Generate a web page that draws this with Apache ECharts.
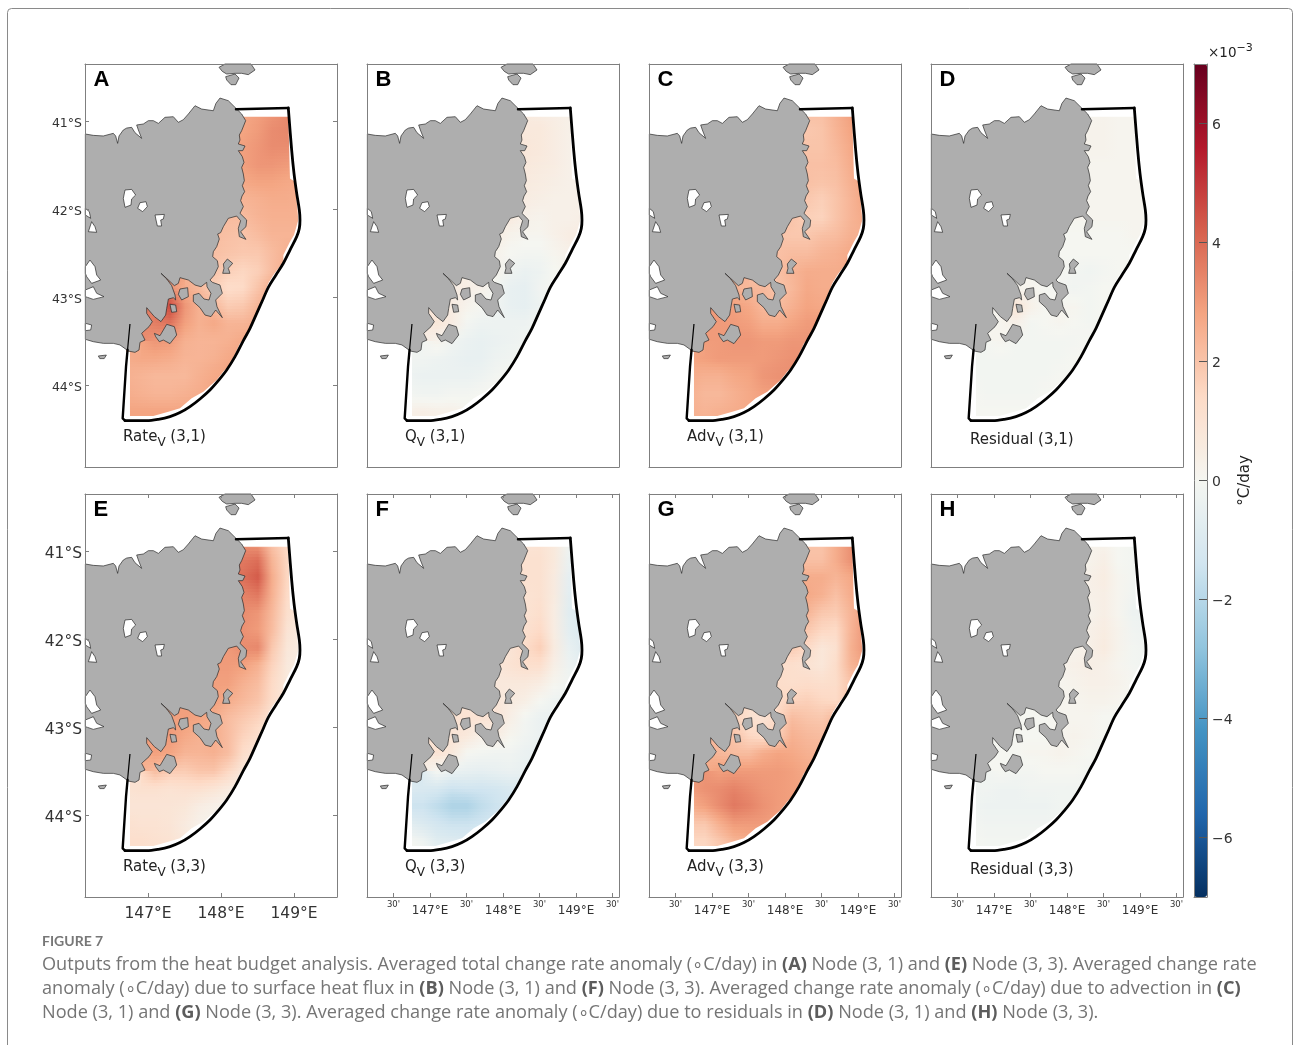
<!DOCTYPE html>
<html><head><meta charset="utf-8">
<script src="https://cdn.jsdelivr.net/npm/echarts@6/dist/echarts.min.js"></script>
<style>html,body{margin:0;padding:0;background:#fff;overflow:hidden}#c{width:1293px;height:1045px}</style>
</head><body><div id="c"></div>
<script>
// ---- axes
const lonRange=[146.137,149.589], latRange=[-44.932,-40.352];
const latTicks=[-41,-42,-43,-44];
const lonDegTicks=[147,148,149];
const lonHalfTicks=[146.5,147,147.5,148,148.5,149,149.5];
const barTicks=[-6,-4,-2,0,2,4,6];
const barRange=[-7,7];
const barColors=['#053061','#2166ac','#4393c3','#92c5de','#d1e5f0','#f5f6f1','#fddbc7','#f4a582','#d6604d','#b2182b','#67001f'];
// ---- reading grid of the fields (values x 1e-3 degC/day)
const lonNodes=[146.7,146.9,147.1,147.3,147.5,147.7,147.9,148.1,148.3,148.5,148.7,148.9,149.1];
const latNodes=[-40.9,-41.1,-41.3,-41.5,-41.7,-41.9,-42.1,-42.3,-42.5,-42.7,-42.9,-43.1,-43.3,-43.5,-43.7,-43.9,-44.1,-44.3,-44.5];
const rowFirstLon=[8,8,8,8,8,8,7,6,6,5,3,3,2,2,0,0,0,0,0];
const rateV31=[[2.7,2.9,3.1,3.3,3.3],[2.8,3.0,3.3,3.4,3.4],[2.9,3.1,3.3,3.3,3.2],[2.9,3.1,3.1,3.0,2.9],[2.7,2.8,2.8,2.7,2.6],[2.4,2.5,2.6,2.6,2.5],
[2.2,2.2,2.4,2.5,2.5,2.5],[2.2,2.1,2.0,2.2,2.4,2.4,2.4],[2.1,2.0,1.9,1.9,2.2,2.5,2.5],[2.3,2.0,1.7,1.5,1.7,2.2,2.6,2.6],
[3.2,2.6,2.3,1.7,1.3,1.4,2.0,2.6,2.7],[4.6,3.1,2.5,2.3,1.8,1.9,2.4,2.7],[3.6,3.8,2.9,2.5,2.7,2.4,2.4,2.6,2.7],[3.1,3.0,2.5,2.4,2.4,2.5,2.7,2.7],
[2.6,2.7,2.7,2.6,2.4,2.4,2.5,2.7,2.8,2.8],[2.5,2.4,2.3,2.3,2.3,2.5,2.7,2.8,2.8],[2.6,2.5,2.4,2.4,2.5,2.6,2.8,2.8],[2.8,2.8,2.8,2.8,2.8,2.9,2.9],[2.8,2.8,2.8,2.8,2.8]];
const qV31=[[0.6,0.5,0.4,0.3,0.3],[0.7,0.7,0.5,0.3,0.3],[0.8,0.7,0.5,0.3,0.3],[0.7,0.6,0.5,0.3,0.3],[0.6,0.5,0.4,0.3,0.3],[0.5,0.4,0.3,0.3,0.3],
[0.6,0.3,0.2,0.3,0.3,0.4],[0.5,0.2,0.1,0.1,0.3,0.5,0.5],[0.2,0.0,-0.1,-0.1,0.1,0.3,0.4],[0.3,0.2,-0.2,-0.4,-0.3,0.0,0.1,0.1],
[0.5,0.4,0.3,-0.1,-0.5,-0.6,-0.2,0.0,0.1],[0.5,0.2,0.0,-0.2,-0.5,-0.6,-0.3,0.0],[0.8,0.5,-0.1,-0.3,-0.3,-0.3,-0.3,-0.1,0.0],[0.2,-0.2,-0.4,-0.5,-0.4,-0.3,-0.2,-0.1],
[-0.2,-0.2,-0.3,-0.4,-0.5,-0.5,-0.3,-0.2,0.0,0.1],[-0.3,-0.4,-0.4,-0.4,-0.4,-0.3,-0.1,0.0,0.1],[-0.1,-0.2,-0.2,-0.1,-0.1,0.0,0.1,0.1],[0.3,0.4,0.3,0.3,0.2,0.2,0.2],[0.4,0.4,0.4,0.3,0.3]];
const advV31=[[2.1,2.1,2.5,2.9,2.9],[1.9,2.0,2.4,2.8,2.9],[2.0,2.0,2.3,2.7,2.9],[2.1,2.1,2.2,2.6,2.9],[2.1,2.0,2.1,2.5,2.8],[1.9,1.7,2.0,2.4,2.8],
[2.0,1.7,1.6,2.0,2.4,2.7],[2.0,1.9,1.9,2.1,2.2,2.5,2.5],[2.1,2.2,2.2,2.4,2.5,2.7,2.7],[1.8,2.1,2.4,2.6,2.6,2.6,2.7,2.7],
[2.4,2.3,2.3,2.0,2.3,2.7,2.6,2.6,2.8],[2.9,2.7,2.3,2.2,2.5,2.8,2.7,2.8],[3.0,3.0,2.9,2.6,2.6,2.8,3.0,3.0,2.9],[3.0,3.1,3.1,3.0,3.0,3.1,3.1,3.0],
[2.8,2.9,3.0,3.0,3.0,3.0,3.1,3.2,3.2,3.1],[2.6,2.5,2.5,2.7,2.8,3.1,3.2,3.2,3.2],[2.5,2.3,2.3,2.5,2.7,2.9,3.0,3.0],[2.5,2.4,2.5,2.6,2.7,2.8,2.8],[2.5,2.5,2.5,2.6,2.7]];
const residual31=[[0.1,0.2,0.1,0.1,0.1],[0.2,0.2,0.1,0.1,0.1],[0.2,0.2,0.1,0.1,0.1],[0.1,0.1,0.1,0.1,0.1],[0.1,0.1,0.1,0.1,0.1],[0.1,0.1,0.1,0.1,0.1],
[0.1,0.1,0.1,0.1,0.1,0.1],[0,0,0,0,0,0.1,0.1],[0,0,0,0,0,0,0.1],[0,0,-0.1,-0.2,-0.1,0,0,0],
[0.1,0.1,0,-0.1,-0.2,-0.1,0,0,0],[0.9,0.3,0,0.1,0.1,-0.1,0,0],[0.1,0.3,-0.1,0,0.1,0,-0.1,0,0],[0.1,-0.1,-0.1,-0.1,-0.1,-0.1,0,0],
[-0.1,-0.1,-0.1,-0.1,-0.1,-0.1,-0.1,0,0,0],[-0.1,-0.1,-0.1,-0.1,-0.1,-0.1,0,0,0],[0,-0.1,-0.1,-0.1,-0.1,0,0,0],[0,0,0,0,0,0,0],[0,0,0,0,0]];
const rateV33=[[3.2,3.0,2.0,1.4,1.2],[3.7,3.9,2.4,1.5,1.2],[3.9,4.3,2.6,1.5,1.2],[3.5,3.7,2.5,1.4,1.0],[3.3,3.1,2.3,1.2,0.7],[3.2,3.0,2.2,1.0,0.6],
[3.0,3.3,3.4,1.9,0.8,0.5],[3.0,3.0,2.9,2.5,1.6,0.7,0.4],[2.9,2.9,2.5,2.2,1.4,0.7,0.4],[3.0,2.9,2.6,2.3,2.0,1.3,0.7,0.5],
[2.9,2.9,2.8,2.6,2.2,1.9,1.6,0.9,0.6],[3.0,2.7,2.5,2.6,2.2,1.6,1.2,0.6],[2.9,2.8,2.4,2.4,2.5,2.2,1.3,0.8,0.4],[2.2,1.8,1.8,2.0,2.0,1.5,0.8,0.4],
[1.0,1.1,1.1,1.0,1.1,1.1,0.9,0.6,0.3,0.2],[0.9,0.9,0.9,0.9,0.8,0.5,0.3,0.2,0.2],[1.1,1.0,1.0,0.9,0.6,0.3,0.2,0.2],[1.2,1.2,1.1,1.0,0.7,0.4,0.3],[1.2,1.2,1.1,1.0,0.8]];
const qV33=[[0.9,1.0,0.7,-0.2,-0.5],[1.1,1.1,0.7,-0.4,-0.7],[1.1,1.1,0.6,-0.6,-0.8],[1.0,1.1,0.6,-0.7,-0.9],[1.0,1.2,0.5,-0.8,-1.0],[1.1,1.4,0.5,-0.7,-1.0],
[0.9,1.3,1.7,0.6,-0.5,-0.9],[0.8,1.0,1.2,1.2,0.4,-0.3,-0.7],[0.7,0.7,0.7,0.5,0.1,-0.2,-0.3],[0.7,0.8,0.6,0.4,0.0,-0.3,-0.4,-0.4],
[1.0,1.0,1.0,0.9,0.4,-0.1,-0.4,-0.4,-0.4],[0.9,0.7,0.3,0.5,0.1,-0.2,-0.4,-0.4],[1.0,0.7,0.0,-0.1,-0.2,-0.2,-0.4,-0.5,-0.5],[0.0,-0.4,-0.5,-0.6,-0.5,-0.4,-0.5,-0.6],
[-1.0,-1.1,-1.2,-1.5,-1.4,-1.4,-1.3,-1.1,-0.9,-0.8],[-1.5,-1.5,-1.8,-2.2,-2.2,-1.8,-1.5,-1.2,-1.0],[-0.7,-1.0,-1.3,-1.5,-1.5,-1.4,-1.2,-1.0],[0.0,-0.3,-0.8,-0.9,-1.0,-0.9,-0.9],[0.1,-0.1,-0.5,-0.8,-0.9]];
const advV33=[[2.0,2.0,2.6,3.2,3.2],[2.1,2.1,2.6,3.2,3.2],[2.6,2.6,2.4,2.7,2.8],[2.7,2.5,2.1,2.6,2.8],[2.4,1.9,1.8,2.4,2.9],[1.9,1.5,1.4,2.4,3.1],
[1.8,1.4,0.8,1.1,2.5,3.1],[1.2,1.2,1.0,0.8,1.3,2.4,2.8],[1.3,1.2,1.3,1.2,1.3,2.0,2.4],[1.2,1.3,1.6,1.7,1.5,1.4,2.0,2.2],
[1.6,1.1,1.0,1.4,2.2,2.0,1.9,2.3,2.4],[2.0,1.5,1.3,1.7,2.5,2.3,2.2,2.3],[2.3,2.2,2.2,2.6,2.8,2.7,2.5,2.4,2.4],[2.9,3.0,3.0,3.0,3.0,2.9,2.7,2.6],
[3.0,3.2,3.3,3.5,3.3,3.1,3.0,2.9,2.8,2.6],[2.6,2.9,3.3,3.7,3.5,3.2,3.0,2.9,2.8],[1.9,1.9,2.5,3.0,3.0,3.0,2.9,2.8],[1.5,1.5,1.9,2.4,2.6,2.7,2.7],[1.4,1.5,1.9,2.4,2.6]];
const residual33=[[0.2,0.2,0,-0.1,-0.1],[0.2,0.4,0,-0.1,-0.1],[0.3,0.5,0.1,-0.1,-0.2],[0.3,0.4,0.1,-0.2,-0.2],[0.2,0.4,0.1,-0.3,-0.3],[0.3,0.5,0.2,-0.2,-0.3],
[0.2,0.3,0.6,0.2,-0.1,-0.2],[0.2,0.3,0.4,0.3,0.1,-0.1,-0.2],[0.1,0.2,0.3,0.3,0.2,0,-0.1],[0.1,0.1,0.1,0.2,0.2,0.1,0,0],
[0,0,0,0.1,0.1,0.1,0,0,-0.1],[0,0,0,0.1,0.2,0.1,0,-0.1],[0,0,0.1,0.1,0.2,0.1,0,-0.1,-0.1],[0,-0.1,-0.1,0,0,0,-0.1,-0.1],
[-0.2,-0.2,-0.3,-0.3,-0.2,-0.2,-0.2,-0.2,-0.2,-0.2],[-0.2,-0.3,-0.3,-0.3,-0.3,-0.3,-0.2,-0.2,-0.2],[-0.1,-0.2,-0.2,-0.2,-0.2,-0.2,-0.2,-0.2],[0,-0.1,-0.1,-0.1,-0.1,-0.1,-0.1],[0,-0.1,-0.1,-0.1,-0.1]];
// ---- geography, lon/lat
const mainland=[[146.142,-41.148],[146.251,-41.163],[146.388,-41.170],[146.525,-41.140],[146.557,-41.170],[146.584,-41.254],[146.603,-41.170],[146.662,-41.102],[146.708,-41.080],[146.776,-41.072],[146.822,-41.133],[146.913,-41.197],[146.868,-41.102],[146.845,-41.045],[146.936,-41.034],[147.005,-40.996],[147.073,-40.996],[147.142,-41.027],[147.233,-40.958],[147.347,-40.951],[147.416,-41.015],[147.484,-40.985],[147.553,-40.920],[147.644,-40.826],[147.735,-40.864],[147.895,-40.883],[147.930,-40.800],[147.986,-40.739],[148.100,-40.769],[148.192,-40.845],[148.283,-40.920],[148.338,-40.996],[148.283,-41.110],[148.251,-41.159],[148.260,-41.216],[148.237,-41.261],[148.329,-41.284],[148.297,-41.337],[148.237,-41.337],[148.292,-41.405],[148.315,-41.470],[148.283,-41.527],[148.306,-41.602],[148.320,-41.678],[148.292,-41.735],[148.324,-41.803],[148.288,-41.852],[148.269,-41.905],[148.306,-41.973],[148.260,-42.049],[148.352,-42.125],[148.342,-42.201],[148.269,-42.258],[148.342,-42.345],[148.251,-42.314],[148.237,-42.220],[148.269,-42.133],[148.215,-42.080],[148.100,-42.106],[148.032,-42.201],[147.995,-42.269],[147.954,-42.284],[147.977,-42.341],[147.941,-42.428],[147.895,-42.485],[147.886,-42.542],[147.950,-42.587],[147.963,-42.655],[147.909,-42.750],[147.849,-42.807],[147.881,-42.833],[147.986,-42.864],[148.018,-42.958],[147.927,-43.034],[147.945,-43.110],[148.018,-43.235],[147.927,-43.148],[147.863,-43.223],[147.781,-43.205],[147.712,-43.121],[147.621,-43.053],[147.621,-42.977],[147.699,-42.958],[147.767,-43.023],[147.836,-43.034],[147.863,-42.958],[147.808,-42.883],[147.804,-42.833],[147.726,-42.883],[147.644,-42.864],[147.553,-42.807],[147.438,-42.780],[147.416,-42.845],[147.361,-42.871],[147.279,-42.807],[147.178,-42.731],[147.256,-42.795],[147.324,-42.871],[147.370,-42.977],[147.379,-43.034],[147.347,-43.008],[147.279,-43.023],[147.256,-43.129],[147.242,-43.205],[147.178,-43.280],[147.087,-43.223],[146.982,-43.121],[146.982,-43.186],[147.059,-43.280],[147.014,-43.337],[146.913,-43.413],[146.959,-43.489],[146.890,-43.515],[146.877,-43.602],[146.822,-43.629],[146.731,-43.614],[146.616,-43.545],[146.525,-43.527],[146.388,-43.527],[146.251,-43.508],[146.142,-43.481]];
const bruny1=[[147.301,-43.083],[147.379,-43.091],[147.393,-43.167],[147.324,-43.174]];
const bruny2=[[147.087,-43.413],[147.164,-43.440],[147.256,-43.311],[147.361,-43.337],[147.393,-43.432],[147.301,-43.530],[147.210,-43.489],[147.155,-43.508],[147.105,-43.451]];
const bayIsle=[[147.438,-42.909],[147.543,-42.894],[147.553,-42.996],[147.461,-43.034],[147.416,-42.970]];
const maria=[[148.032,-42.625],[148.087,-42.568],[148.160,-42.617],[148.100,-42.674],[148.123,-42.731],[148.023,-42.731],[148.041,-42.674]];
const capeBarren=[[147.973,-40.390],[148.055,-40.352],[148.411,-40.352],[148.466,-40.420],[148.374,-40.473],[148.283,-40.458],[148.192,-40.458],[148.078,-40.466],[148.018,-40.436]];
const clarke=[[148.064,-40.496],[148.192,-40.466],[148.247,-40.511],[148.201,-40.587],[148.137,-40.587],[148.078,-40.534]];
const specks=[[146.32,-43.67],[146.43,-43.66],[146.40,-43.70],[146.34,-43.70]];
const lakes=[
[[146.685,-41.784],[146.776,-41.777],[146.831,-41.841],[146.776,-41.886],[146.767,-41.955],[146.685,-41.981],[146.662,-41.879]],
[[146.890,-41.928],[146.973,-41.917],[146.991,-41.973],[146.927,-42.030],[146.858,-41.992]],
[[147.096,-42.068],[147.224,-42.061],[147.210,-42.114],[147.174,-42.125],[147.187,-42.193],[147.128,-42.193],[147.110,-42.125]],
[[146.142,-41.992],[146.196,-42.030],[146.215,-42.106],[146.142,-42.068]],
[[146.228,-42.144],[146.274,-42.201],[146.297,-42.265],[146.183,-42.258]],
[[146.142,-42.655],[146.205,-42.580],[146.274,-42.655],[146.297,-42.750],[146.352,-42.807],[146.228,-42.845],[146.160,-42.769],[146.142,-42.731]],
[[146.142,-42.920],[146.251,-42.883],[146.297,-42.958],[146.397,-42.996],[146.251,-43.027],[146.142,-42.996]],
[[146.142,-43.299],[146.228,-43.318],[146.215,-43.375],[146.142,-43.383]]];
const fieldEdge=[[148.306,-40.951],[148.922,-40.951],[148.945,-41.652],[149.014,-41.689],[149.059,-42.125],[149.000,-42.295],[148.945,-42.371],[148.854,-42.523],[148.854,-42.598],[148.717,-42.750],[148.648,-42.845],[148.557,-43.034],[148.443,-43.280],[148.352,-43.451],[148.260,-43.527],[148.123,-43.773],[148.032,-43.848],[147.941,-43.943],[147.758,-44.076],[147.598,-44.152],[147.438,-44.265],[147.279,-44.303],[147.073,-44.352],[146.753,-44.352],[146.753,-43.621]];
const boundaryNorth=[[148.205,-40.867],[148.922,-40.852]];
const boundaryThick=[[148.922,-40.852],[148.968,-41.330],[149.000,-41.595],[149.037,-41.822],[149.073,-42.011],[149.082,-42.125],[149.073,-42.220],[149.037,-42.314],[148.945,-42.466],[148.854,-42.617],[148.753,-42.750],[148.648,-42.890],[148.571,-43.034],[148.489,-43.186],[148.397,-43.356],[148.306,-43.496],[148.192,-43.678],[148.078,-43.830],[147.963,-43.951],[147.849,-44.057],[147.712,-44.159],[147.575,-44.246],[147.438,-44.314],[147.301,-44.360],[147.142,-44.390],[146.982,-44.405],[146.685,-44.405]];
const boundaryWest=[[146.685,-44.405],[146.653,-44.379],[146.699,-43.792],[146.72,-43.60]];
const boundaryThin=[[146.72,-43.60],[146.753,-43.307]];
// ---- text
const panelLetters=['A','B','C','D','E','F','G','H'];
const panelNames=[['Rate','V',' (3,1)'],['Q','V',' (3,1)'],['Adv','V',' (3,1)'],['Residual','',' (3,1)'],['Rate','V',' (3,3)'],['Q','V',' (3,3)'],['Adv','V',' (3,3)'],['Residual','',' (3,3)']];
const panelFields=[rateV31,qV31,advV31,residual31,rateV33,qV33,advV33,residual33];
const captionHead='FIGURE 7';
const captionLines=[
'Outputs from the heat budget analysis. Averaged total change rate anomaly (∘C/day) in (A) Node (3, 1) and (E) Node (3, 3). Averaged change rate',
'anomaly (∘C/day) due to surface heat flux in (B) Node (3, 1) and (F) Node (3, 3). Averaged change rate anomaly (∘C/day) due to advection in (C)',
'Node (3, 1) and (G) Node (3, 3). Averaged change rate anomaly (∘C/day) due to residuals in (D) Node (3, 1) and (H) Node (3, 3).'];

// ---- layout
const panelLeft=[85,367,649,931], panelTop=[64,494], panelW=252, panelH=403;
const labelDx=[38,38,38,39];
const FONT='"DejaVu Sans"';
const FRAME='#7f7f7f';

function hex(c){return [1,3,5].map(i=>parseInt(c.substr(i,2),16));}
const barRgb=barColors.map(hex);
function colorOf(v){
  const t=Math.max(0,Math.min(1,(v-barRange[0])/(barRange[1]-barRange[0])))*(barRgb.length-1);
  const i=Math.min(barRgb.length-2,Math.floor(t)),f=t-i;
  const c=barRgb[i].map((a,k)=>Math.round(a+(barRgb[i+1][k]-a)*f));
  return 'rgb('+c.join(',')+')';
}
function nodeTable(rows){
  return latNodes.map((_,r)=>{const o=new Array(lonNodes.length).fill(null);(rows[r]||[]).forEach((v,k)=>{o[rowFirstLon[r]+k]=v;});return o;});
}
function cellData(rows){
  const t=nodeTable(rows),out=[];
  for(let r=0;r<latNodes.length-1;r++)for(let c=0;c<lonNodes.length-1;c++){
    const q=[t[r][c],t[r][c+1],t[r+1][c],t[r+1][c+1]],ok=q.filter(v=>v!==null);
    if(!ok.length)continue;
    const m=ok.reduce((a,b)=>a+b,0)/ok.length;
    out.push([lonNodes[c],latNodes[r],lonNodes[c+1],latNodes[r+1]].concat(q.map(v=>v===null?m:v)));
  }
  return out;
}
const STRIPS=6;
function renderCell(params,api){
  const a=api.coord([api.value(0),api.value(1)]),b=api.coord([api.value(2),api.value(3)]);
  const x0=Math.round(a[0]),x1=Math.round(b[0]);
  const nw=api.value(4),ne=api.value(5),sw=api.value(6),se=api.value(7);
  const ch=[];
  for(let k=0;k<STRIPS;k++){
    const y0=Math.round(a[1]+(b[1]-a[1])*k/STRIPS),y1=Math.round(a[1]+(b[1]-a[1])*(k+1)/STRIPS),t=(k+.5)/STRIPS;
    const L=nw+(sw-nw)*t,R=ne+(se-ne)*t;
    ch.push({type:'rect',shape:{x:x0,y:y0,width:x1-x0,height:y1-y0},
      style:{fill:new echarts.graphic.LinearGradient(0,0,1,0,[{offset:0,color:colorOf(L)},{offset:1,color:colorOf(R)}])}});
  }
  return {type:'group',children:ch,silent:true};
}
function polyRender(list,fill,stroke,lw){
  return function(params,api){
    const pts=list[api.value(0)].map(p=>api.coord(p));
    return {type:'polygon',silent:true,shape:{points:pts},style:{fill:fill,stroke:stroke,lineWidth:lw}};
  };
}
function maskPolygon(){
  return [[lonRange[0],latRange[1]],[lonRange[1],latRange[1]],[lonRange[1],latRange[0]],[lonRange[0],latRange[0]],[lonRange[0],-43.621],[146.753,-43.621]]
    .concat(fieldEdge.slice().reverse().slice(1))
    .concat([[lonRange[0],-40.951]]);
}
const option={animation:false,backgroundColor:'#fff',grid:[],xAxis:[],yAxis:[],series:[],graphic:{elements:[]}};
const fieldSeries=[];
const g=option.graphic.elements;

function tickAx(extra){
  return Object.assign({type:'value',scale:true,z:10,splitLine:{show:false},
    axisLine:{show:true,onZero:false,lineStyle:{color:FRAME,width:1}},
    axisTick:{show:false},axisLabel:{show:false}},extra);
}
panelFields.forEach((rows,i)=>{
  const col=i%4,row=i<4?0:1;
  const L=panelLeft[col],T=panelTop[row];
  option.grid.push({left:L,top:T,width:panelW,height:panelH});
  const gi=i;
  const ax=option.xAxis.length, ay=option.yAxis.length;
  const lonTicks=(row===1)?(col===0?lonDegTicks:lonHalfTicks):null;
  const yTicks=(col===0)?latTicks:null;
  const xTickOpt=lonTicks?{show:true,inside:true,length:4,customValues:lonTicks,lineStyle:{color:FRAME}}:{show:false};
  const yTickOpt=yTicks?{show:true,inside:true,length:4,customValues:yTicks,lineStyle:{color:FRAME}}:{show:false};
  const bottomLabel=lonTicks?{show:true,customValues:lonTicks,margin:col===0?9:3,color:'#333',
     formatter:v=>Number.isInteger(v)?'{m|'+v+'°E}':"{h|30'}",
     rich:{m:{fontFamily:FONT,fontSize:col===0?15.5:12,color:'#333',padding:col===0?[0,0,0,0]:[5,0,0,0]},h:{fontFamily:FONT,fontSize:8.5,color:'#333',padding:[0,0,7,0]}}}:{show:false};
  const leftLabel=yTicks?{show:true,customValues:yTicks,margin:3,color:'#333',
     formatter:v=>'{s|'+(-v)+'°S}',
     rich:{s:{fontFamily:FONT,color:'#333',fontSize:row===0?12.5:15.5,padding:[5,0,0,0]}}}:{show:false};
  option.xAxis.push(tickAx({gridIndex:gi,position:'bottom',min:lonRange[0],max:lonRange[1],axisTick:xTickOpt,axisLabel:bottomLabel}));
  option.xAxis.push(tickAx({gridIndex:gi,position:'top',min:lonRange[0],max:lonRange[1],axisTick:xTickOpt}));
  option.yAxis.push(tickAx({gridIndex:gi,position:'left',min:latRange[0],max:latRange[1],axisTick:yTickOpt,axisLabel:leftLabel}));
  option.yAxis.push(tickAx({gridIndex:gi,position:'right',min:latRange[0],max:latRange[1],axisTick:yTickOpt}));
  const base={type:'custom',coordinateSystem:'cartesian2d',xAxisIndex:ax,yAxisIndex:ay,silent:true,animation:false,progressive:0};
  fieldSeries.push(option.series.length);
  option.series.push(Object.assign({},base,{name:'field '+panelLetters[i],renderItem:renderCell,data:cellData(rows),dimensions:['lon0','lat0','lon1','lat1','nw','ne','sw','se'],encode:{x:[0,2],y:[1,3]}}));
  const mask=[maskPolygon()];
  option.series.push(Object.assign({},base,{renderItem:polyRender(mask,'#fff',null,0),data:[[0]],encode:{x:-1,y:-1}}));
  const lands=[mainland,bruny1,bruny2,bayIsle,maria,capeBarren,clarke,specks];
  option.series.push(Object.assign({},base,{renderItem:polyRender(lands,'#aeaeae','#2a2a2a',0.7),data:lands.map((_,k)=>[k]),encode:{x:-1,y:-1}}));
  option.series.push(Object.assign({},base,{renderItem:polyRender(lakes,'#fff','#2a2a2a',0.7),data:lakes.map((_,k)=>[k]),encode:{x:-1,y:-1}}));
  const lineBase={type:'line',xAxisIndex:ax,yAxisIndex:ay,showSymbol:false,silent:true,animation:false,clip:false};
  option.series.push(Object.assign({},lineBase,{data:boundaryNorth,lineStyle:{color:'#000',width:2.4,cap:'round'}}));
  option.series.push(Object.assign({},lineBase,{data:boundaryThick,smooth:0.35,lineStyle:{color:'#000',width:2.8,cap:'round',join:'round'}}));
  option.series.push(Object.assign({},lineBase,{data:boundaryWest,lineStyle:{color:'#000',width:2.4,cap:'round',join:'round'}}));
  option.series.push(Object.assign({},lineBase,{data:boundaryThin,lineStyle:{color:'#000',width:1.2}}));
  // panel letter and name
  g.push({type:'text',z:100,silent:true,x:L+8.5,y:T+16,style:{text:panelLetters[i],fontFamily:'"Liberation Sans"',fontWeight:'bold',fontSize:22,fill:'#000',verticalAlign:'middle'}});
  const n=panelNames[i];
  const txt=n[1]?'{a|'+n[0]+'}{b|'+n[1]+'}{a|'+n[2]+'}':'{a|'+n[0]+n[2]+'}';
  g.push({type:'text',z:100,silent:true,x:L+labelDx[col],y:T+(col===3?376:373),style:{text:txt,verticalAlign:'middle',
    rich:{a:{fontFamily:FONT,fontSize:15,fill:'#222'},b:{fontFamily:FONT,fontSize:12,fill:'#222',padding:[11,0,0,0]}}}});
});
// colour bar axis
const bi=option.grid.length;
option.grid.push({left:1194,top:64,width:13,height:833});
option.xAxis.push(tickAx({gridIndex:bi,position:'bottom',min:0,max:1}));
option.xAxis.push(tickAx({gridIndex:bi,position:'top',min:0,max:1}));
option.yAxis.push(tickAx({gridIndex:bi,position:'left',min:barRange[0],max:barRange[1]}));
option.yAxis.push(tickAx({gridIndex:bi,position:'right',min:barRange[0],max:barRange[1],
  axisTick:{show:true,inside:true,length:8,customValues:barTicks,lineStyle:{color:'#555'}},
  axisLabel:{show:true,customValues:barTicks,margin:5,formatter:v=>'{s|'+(v<0?'\u2212'+(-v):String(v))+'}',
    rich:{s:{fontFamily:FONT,fontSize:14,color:'#333',padding:[3,0,0,0]}}},
  name:'°C/day',nameLocation:'middle',nameRotate:90,nameGap:31,nameTextStyle:{fontFamily:FONT,fontSize:15,color:'#222'}}));
option.visualMap={type:'continuous',min:barRange[0],max:barRange[1],dimension:4,seriesIndex:fieldSeries,show:true,
  left:1194,top:64,itemWidth:13,itemHeight:833,padding:0,calculable:false,realtime:false,hoverLink:false,text:null,showLabel:false,
  inRange:{color:barColors},textStyle:{fontSize:0}};
g.push({type:'text',z:100,silent:true,x:1208,y:53,style:{text:'{a|×10}{b|−3}',verticalAlign:'middle',rich:{a:{fontFamily:FONT,fontSize:13.5,fill:'#222'},b:{fontFamily:FONT,fontSize:11,fill:'#222',padding:[0,0,9,0]}}}});
// page frame and caption
g.push({type:'rect',z:0,silent:true,shape:{x:7.5,y:8.5,width:1285,height:1080,r:4},style:{fill:'transparent',stroke:'#8a8a8a',lineWidth:1}});
g.push({type:'text',z:100,silent:true,x:42,y:941,style:{text:captionHead,fontFamily:'Lato',fontSize:14,fontWeight:'bold',fill:'#777',verticalAlign:'middle'}});
const capRich={t:{fontFamily:'"Open Sans"',fontSize:18.15,fill:'#757575'},b:{fontFamily:'"Open Sans"',fontSize:18.15,fontWeight:'bold',fill:'#5c5c5c'}};
captionLines.forEach((s,i)=>{
  const parts=s.split(/(\([A-H]\))/).filter(Boolean).map(p=>/^\([A-H]\)$/.test(p)?'{b|'+p+'}':'{t|'+p+'}').join('');
  g.push({type:'text',z:100,silent:true,x:42,y:965+24*i,style:{text:parts,verticalAlign:'middle',rich:capRich}});
});
const chart=echarts.init(document.getElementById('c'),null,{renderer:'canvas',width:1293,height:1045});
chart.setOption(option);
</script></body></html>
